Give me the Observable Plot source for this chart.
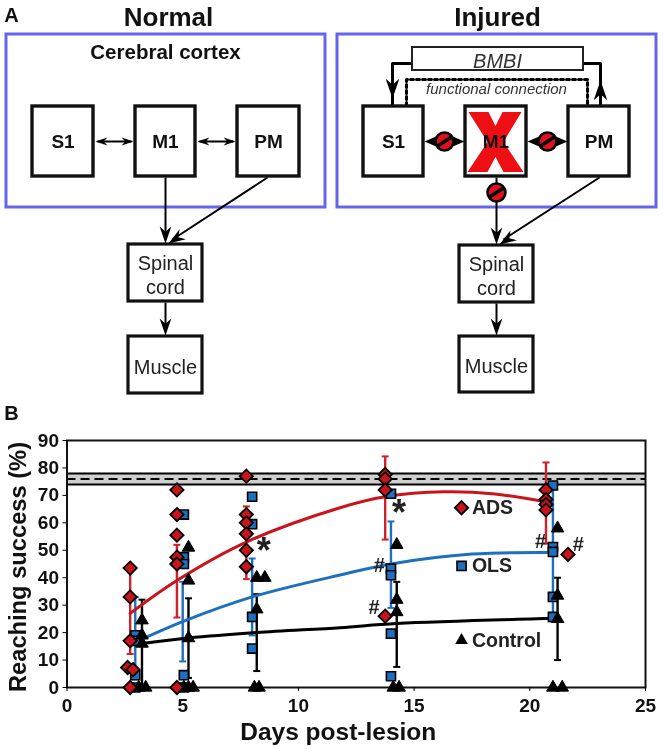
<!DOCTYPE html>
<html>
<head>
<meta charset="utf-8">
<script src="https://cdn.jsdelivr.net/npm/d3@7"></script>
<script src="https://cdn.jsdelivr.net/npm/@observablehq/plot@0.6"></script>
<style>
html,body{margin:0;padding:0;background:#fff}
svg{display:block;filter:blur(0.35px)}
</style>
</head>
<body>
<div id="a"></div>
<div id="b"></div>
<script>
// ---------- Chart values (panel B) ----------
const adsDays = [2.73, 4.75, 7.75, 13.75, 20.7, 21.65, 2.62, 2.85];
const adsScores = [[43.5, 33, 17, 0], [72, 63, 55.5, 47.5, 45, 0], [77, 63, 60, 56, 50, 44], [77.6, 76, 72, 26], [72, 68.5, 66.7, 64.7], [48.5], [7.3], [6.5]];
const olsDays = [2.95, 5.05, 8, 14, 21];
const olsScores = [[19, 17, 4.5, 0], [63, 47.5, 45, 4.5, 0], [69.5, 59.5, 25.7, 14.2], [70.6, 43.3, 40.9, 19.6, 4.1], [73.6, 51.2, 49.4, 33, 25.7]];
const ctrlDays = [3.24, 5.25, 8.2, 8.55, 14.25, 21.2];
const ctrlScores = [[24.5, 19, 16], [51, 39, 18], [40, 28.5], [40], [52, 32, 27.5], [58, 33.5, 25]];
const ctrlZeroDays = [3.1, 3.4, 5.05, 5.25, 5.45, 8.1, 8.3, 14.1, 14.35, 21.0, 21.4];

const adsMeanDays = [2.73, 4.75, 7.75, 13.75, 20.7];
const adsMeans = [27, 39, 53, 69.5, 67.6];
const adsLow = [12.2, 25.5, 39.5, 53.9, 52.4];
const adsHigh = [43.5, 52, 66, 84.2, 82];
const olsMeanDays = [2.95, 5, 8, 14, 21];
const olsMeans = [16.5, 24, 33, 45, 49.2];
const olsLow = [3, 9.5, 19, 29, 26];
const olsHigh = [33, 38.5, 47, 60.5, 74];
const ctrlMeanDays = [3.24, 5.25, 8.2, 14.25, 21.2];
const ctrlMeans = [16, 18, 20, 23.3, 25.2];
const ctrlLow = [0, 3.5, 6, 7.5, 10];
const ctrlHigh = [32, 32.5, 34, 38.5, 40];

const adsCurveDays = [2.73, 4.75, 7.75, 11.8, 13.75, 16.3, 18.5, 20.7];
const adsCurve = [27, 39, 53, 65.5, 69.5, 71.3, 70.5, 67.6];
const olsCurveDays = [2.95, 5, 8, 11.8, 14, 17.5, 21];
const olsCurve = [16.5, 24, 33, 41, 45, 48.6, 49.2];
const ctrlCurveDays = [3.24, 5.25, 8.2, 11.8, 14.25, 21.2];
const ctrlCurve = [16, 18, 20, 21.8, 23.3, 25.2];

const normalBand = [74, 78];
const normalMean = [76];
const xTicks = [0, 5, 10, 15, 20, 25];
const yTicks = [0, 10, 20, 30, 40, 50, 60, 70, 80, 90];
const legendNames = ["ADS", "OLS", "Control"];
const legendValues = [65.5, 44.3, 17.2];
const stars = [{day: 8.5, value: 49.5}, {day: 14.35, value: 63.5}];
const hashes = [{day: 13.5, value: 44.5}, {day: 13.27, value: 29}, {day: 20.47, value: 53}, {day: 22.1, value: 52}];

// ---------- Diagram layout (panel A), in page pixels ----------
const frames = [{x1: 6, x2: 325, y1: 34, y2: 207}, {x1: 337, x2: 656, y1: 34, y2: 207}];
const nodes = [
  {x1: 32, x2: 93, y1: 106, y2: 176, t: "S1"}, {x1: 135, x2: 195, y1: 106, y2: 176, t: "M1"}, {x1: 237, x2: 299, y1: 106, y2: 176, t: "PM"},
  {x1: 363, x2: 423, y1: 106, y2: 176, t: "S1"}, {x1: 465, x2: 526, y1: 106, y2: 176, t: "M1"}, {x1: 568, x2: 629, y1: 106, y2: 176, t: "PM"}
];
const lowerBoxes = [
  {x1: 128, x2: 202, y1: 244, y2: 301, t: "Spinal\ncord"}, {x1: 128, x2: 202, y1: 336, y2: 393, t: "Muscle"},
  {x1: 459, x2: 533, y1: 245, y2: 302, t: "Spinal\ncord"}, {x1: 459, x2: 533, y1: 336, y2: 392, t: "Muscle"}
];
const bmbiBox = [{x1: 412, x2: 583, y1: 47, y2: 70}];
const links = [
  {x1: 97, y1: 141, x2: 131, y2: 141}, {x1: 199, y1: 141, x2: 233, y2: 141},
  {x1: 165, y1: 177, x2: 165, y2: 238}, {x1: 267, y1: 177, x2: 172, y2: 239}, {x1: 165, y1: 302, x2: 165, y2: 326},
  {x1: 496, y1: 177, x2: 496, y2: 238}, {x1: 599, y1: 177, x2: 503, y2: 239}, {x1: 496, y1: 303, x2: 496, y2: 326}
];
const doubleHeads = [{x: 95, y: 141, a: -90}, {x: 133, y: 141, a: 90}, {x: 197, y: 141, a: -90}, {x: 235, y: 141, a: 90}];
const heads = [
  {x: 165, y: 243, a: 180}, {x: 168, y: 243, a: 237}, {x: 165, y: 335, a: 180},
  {x: 496, y: 244, a: 180}, {x: 499, y: 244, a: 237}, {x: 496, y: 335, a: 180}
];
const bmbiHeads = [{x: 392, y: 98, a: 180}, {x: 600, y: 80, a: 0}];
const bmbiLeft = [{x: 412, y: 63}, {x: 392, y: 63}, {x: 392, y: 105}];
const bmbiRight = [{x: 583, y: 63}, {x: 600, y: 63}, {x: 600, y: 105}];
const functionalPath = [{x: 406, y: 105}, {x: 406, y: 79}, {x: 587, y: 79}, {x: 587, y: 105}];
const spindles = [{x: 444, y: 141}, {x: 547, y: 141}];
const blocks = [{x: 444, y: 141}, {x: 547, y: 141}, {x: 496, y: 192}];
const lesion = [{x: 495, y: 141.5}];

const sans = "'Liberation Sans', Arial, sans-serif";
const arrowHead = {draw(c, size) { const s = Math.sqrt(size) / 10;
  c.moveTo(0, 0); c.lineTo(5.5 * s, 16 * s); c.lineTo(0, 11 * s); c.lineTo(-5.5 * s, 16 * s); c.closePath(); }};
const spindle = {draw(c) { c.moveTo(-20, 0); c.lineTo(-6, -6); c.lineTo(6, -6); c.lineTo(20, 0); c.lineTo(6, 6); c.lineTo(-6, 6); c.closePath(); }};
const slash = {draw(c) { c.moveTo(-7, 4.5); c.lineTo(7, -4.5); }};
const cap = {draw(c) { c.moveTo(-3.5, 0); c.lineTo(3.5, 0); }};
const crossShape = {draw(c) {
  const p = [[-27, -30], [-7, -30], [0, -16], [7, -30], [26, -30], [8, 0], [28, 30], [8, 30], [0, 15], [-8, 30], [-28, 30], [-8, 0]];
  p.forEach(([x, y], i) => i ? c.lineTo(x, y) : c.moveTo(x, y)); c.closePath(); }};

const label = (items, o) => Plot.text(items, {x: "x", y: "y", text: "t", fontFamily: sans, fill: "#111", lineAnchor: "middle", ...o});
const nodeLabels = nodes.map(n => ({x: (n.x1 + n.x2) / 2, y: 141, t: n.t}));
const lowerLabels = lowerBoxes.map(n => ({x: (n.x1 + n.x2) / 2, y: (n.y1 + n.y2) / 2 + 1, t: n.t}));

const panelA = Plot.plot({
  width: 663, height: 395, margin: 0,
  x: {domain: [0, 663], range: [0, 663], axis: null},
  y: {domain: [0, 395], range: [0, 395], axis: null},
  style: {background: "#fff", fontFamily: sans},
  marks: [
    Plot.rect(frames, {x1: "x1", x2: "x2", y1: "y1", y2: "y2", fill: "#fff", stroke: "#6464ee", strokeWidth: 3}),
    Plot.link(links, {x1: "x1", y1: "y1", x2: "x2", y2: "y2", stroke: "#000", strokeWidth: 2}),
    Plot.line(bmbiLeft, {x: "x", y: "y", stroke: "#000", strokeWidth: 3, curve: "linear"}),
    Plot.line(bmbiRight, {x: "x", y: "y", stroke: "#000", strokeWidth: 3, curve: "linear"}),
    Plot.line(functionalPath, {x: "x", y: "y", stroke: "#000", strokeWidth: 3, strokeDasharray: "3,3", curve: "linear"}),
    Plot.rect(nodes, {x1: "x1", x2: "x2", y1: "y1", y2: "y2", fill: "#fff", stroke: "#111", strokeWidth: 3.4}),
    Plot.rect(lowerBoxes, {x1: "x1", x2: "x2", y1: "y1", y2: "y2", fill: "#fff", stroke: "#111", strokeWidth: 3.2}),
    Plot.rect(bmbiBox, {x1: "x1", x2: "x2", y1: "y1", y2: "y2", fill: "#fff", stroke: "#222", strokeWidth: 2}),
    Plot.dot(doubleHeads, {x: "x", y: "y", rotate: "a", symbol: arrowHead, r: 4.2, fill: "#000", stroke: "none"}),
    Plot.dot(heads, {x: "x", y: "y", rotate: "a", symbol: arrowHead, r: 6, fill: "#000", stroke: "none"}),
    Plot.dot(bmbiHeads, {x: "x", y: "y", rotate: "a", symbol: arrowHead, r: 7, fill: "#000", stroke: "none"}),
    Plot.dot(spindles, {x: "x", y: "y", symbol: spindle, fill: "#000", stroke: "none"}),
    Plot.dot(blocks, {x: "x", y: "y", r: 9, fill: "#e0101c", stroke: "#000", strokeWidth: 2.6}),
    Plot.dot(blocks, {x: "x", y: "y", symbol: slash, fill: "none", stroke: "#000", strokeWidth: 3.4}),
    Plot.dot(lesion, {x: "x", y: "y", symbol: crossShape, fill: "#ee0f14", stroke: "none"}),
    label(nodeLabels, {fontSize: 19, fontWeight: "bold"}),
    label(lowerLabels, {fontSize: 20, lineHeight: 1.2, fill: "#222"}),
    label([{x: 497, y: 61, t: "BMBI"}], {fontSize: 20, fontStyle: "italic", fill: "#333"}),
    label([{x: 496, y: 89, t: "functional connection"}], {fontSize: 15, fontStyle: "italic", fill: "#333"}),
    label([{x: 165, y: 52, t: "Cerebral cortex"}], {fontSize: 20.5, fontWeight: "bold"}),
    label([{x: 168, y: 17, t: "Normal"}, {x: 497, y: 17, t: "Injured"}], {fontSize: 26, fontWeight: "bold"}),
    label([{x: 11, y: 15, t: "A"}], {fontSize: 20, fontWeight: "bold"})
  ]
});
document.getElementById("a").append(panelA);

// ---------- Panel B ----------
const rows = (days, vals) => days.flatMap((d, i) => vals[i].map(v => ({day: d, value: v})));
const stats = (days, means, lo, hi) => days.map((d, i) => ({day: d, mean: means[i], lo: lo[i], hi: hi[i]}));
const curve = (days, vals) => days.map((d, i) => ({day: d, value: vals[i]}));
const ADS = "#c8141c", OLS = "#1e6fbe", CTRL = "#000";
const adsStats = stats(adsMeanDays, adsMeans, adsLow, adsHigh);
const olsStats = stats(olsMeanDays, olsMeans, olsLow, olsHigh);
const ctrlStats = stats(ctrlMeanDays, ctrlMeans, ctrlLow, ctrlHigh);
const errorMarks = (s, color) => [
  Plot.ruleX(s, {x: "day", y1: "lo", y2: "hi", stroke: color, strokeWidth: 2.4}),
  Plot.dot(s, {x: "day", y: "lo", symbol: cap, fill: "none", stroke: color, strokeWidth: 2}),
  Plot.dot(s, {x: "day", y: "hi", symbol: cap, fill: "none", stroke: color, strokeWidth: 2})
];
const legendX = 17.05, legendTextX = 17.5;
const legendRow = legendNames.map((t, i) => ({t, value: legendValues[i]}));

const panelB = Plot.plot({
  width: 663, height: 354,
  marginTop: 45, marginBottom: 62, marginLeft: 66.5, marginRight: 18,
  x: {domain: [0, 25]},
  y: {domain: [0, 90]},
  style: {background: "transparent", fontFamily: sans, overflow: "visible"},
  marks: [
    Plot.rectY([normalBand], {x1: 0, x2: 25, y1: d => d[0], y2: d => d[1], fill: "#cfcfcf"}),
    Plot.ruleY(normalBand, {stroke: "#000", strokeWidth: 2}),
    Plot.ruleY(normalMean, {stroke: "#000", strokeWidth: 2, strokeDasharray: "9,5"}),
    Plot.frame({stroke: "#111", strokeWidth: 2}),
    Plot.axisX({ticks: xTicks, tickSize: 4, tickPadding: 7, fontSize: 19, fontWeight: "bold", fill: "#111", label: null}),
    Plot.axisY({ticks: yTicks, tickSize: 4, tickPadding: 4, fontSize: 19, fontWeight: "bold", fill: "#111", label: null}),
    Plot.text(["Days post-lesion"], {frameAnchor: "bottom", dx: -18, dy: 44.7, lineAnchor: "middle", fontSize: 24.5, fontWeight: "bold", fill: "#111", fontFamily: sans}),
    Plot.text(["Reaching success (%)"], {frameAnchor: "left", dx: -49, dy: 3, rotate: -90, textAnchor: "middle", lineAnchor: "middle", fontSize: 23.7, fontWeight: "bold", fill: "#111", fontFamily: sans}),
    ...errorMarks(adsStats, "#d0202a"),
    ...errorMarks(olsStats, OLS),
    ...errorMarks(ctrlStats, CTRL),
    Plot.line(curve(ctrlCurveDays, ctrlCurve), {x: "day", y: "value", stroke: CTRL, strokeWidth: 3, curve: "catmull-rom"}),
    Plot.line(curve(olsCurveDays, olsCurve), {x: "day", y: "value", stroke: OLS, strokeWidth: 3, curve: "catmull-rom"}),
    Plot.line(curve(adsCurveDays, adsCurve), {x: "day", y: "value", stroke: ADS, strokeWidth: 3, curve: "catmull-rom"}),
    Plot.dot(rows(olsDays, olsScores), {x: "day", y: "value", symbol: "square2", r: 5.8, fill: OLS, stroke: "#000", strokeWidth: 1.6}),
    Plot.dot(rows(ctrlDays, ctrlScores), {x: "day", y: "value", symbol: "triangle2", r: 6, fill: CTRL, stroke: "#000", strokeWidth: 1}),
    Plot.dot(ctrlZeroDays, {x: d => d, y: () => 0, symbol: "triangle2", r: 6, fill: CTRL, stroke: "#000", strokeWidth: 1}),
    Plot.dot(rows(adsDays, adsScores), {x: "day", y: "value", symbol: "diamond2", r: 6, fill: ADS, stroke: "#000", strokeWidth: 1.8}),
    Plot.text(stars, {x: "day", y: "value", text: () => "*", fontSize: 36, fontWeight: "bold", fill: "#222", fontFamily: sans}),
    Plot.text(hashes, {x: "day", y: "value", text: () => "#", fontSize: 20, fontWeight: "bold", fill: "#222", fontFamily: sans}),
    Plot.dot(legendRow.slice(0, 1), {x: () => legendX, y: "value", symbol: "diamond2", r: 6, fill: ADS, stroke: "#000", strokeWidth: 1.8}),
    Plot.dot(legendRow.slice(1, 2), {x: () => legendX, y: "value", symbol: "square2", r: 5.8, fill: OLS, stroke: "#000", strokeWidth: 1.6}),
    Plot.dot(legendRow.slice(2), {x: () => legendX, y: "value", symbol: "triangle2", r: 6, fill: CTRL}),
    Plot.text(legendRow, {x: () => legendTextX, y: "value", text: "t", textAnchor: "start", fontSize: 19.5, fontWeight: "bold", fill: "#222", fontFamily: sans}),
    Plot.text(["B"], {x: () => -2.4, y: () => 99.7, fontSize: 20, fontWeight: "bold", fill: "#111", fontFamily: sans})
  ]
});
document.getElementById("b").append(panelB);
</script>
</body>
</html>
